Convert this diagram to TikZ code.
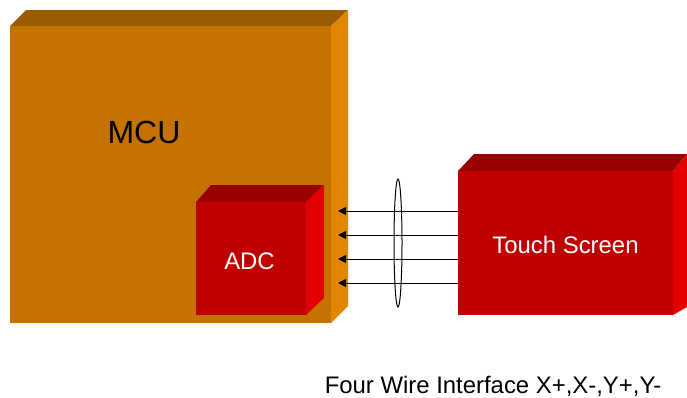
\documentclass[tikz,border=0pt]{standalone}
\usepackage{fontspec}
\setmainfont{Liberation Sans}
\usetikzlibrary{arrows.meta,shapes.geometric}
\definecolor{mcufront}{RGB}{196,114,0}
\definecolor{mcutop}{RGB}{153,92,0}
\definecolor{mcuside}{RGB}{226,134,0}
\definecolor{redfront}{RGB}{192,0,0}
\definecolor{redtop}{RGB}{153,0,0}
\definecolor{redside}{RGB}{226,0,0}
\tikzset{
  front/.style={anchor=north west,inner sep=0pt,outer sep=0pt,text=white},
  wire/.style={draw=black,line width=1pt,-{Triangle[length=8pt,width=8pt]}},
  lbl/.style={inner sep=0pt,font=\fontsize{23.9}{26}\selectfont}
}
\begin{document}
\begin{tikzpicture}[x=1pt,y=-1pt]
\useasboundingbox (0,0) rectangle (687,397);
% MCU
\fill[mcutop] (10,26) -- (26,10) -- (348,10) -- (331,26) -- cycle;
\fill[mcuside] (331,26) -- (348,10) -- (348,306) -- (331,323) -- cycle;
\node[front,fill=mcufront,minimum width=321pt,minimum height=297pt] (mcu) at (10,26) {};
\node[inner sep=0pt,font=\fontsize{32}{36}\selectfont] (mculabel) at (144,132) {MCU};
% ADC
\fill[redtop] (196,202) -- (211,185) -- (324,185) -- (306,202) -- cycle;
\fill[redside] (306,202) -- (324,185) -- (324,298) -- (306,315) -- cycle;
\node[front,fill=redfront,minimum width=110pt,minimum height=113pt] (adc) at (196,202) {};
\node[lbl,text=white] (adclabel) at (249.5,261) {ADC};
% Touch screen
\fill[redtop] (458,171) -- (474,154) -- (687,154) -- (673,171) -- cycle;
\fill[redside] (673,171) -- (687,154) -- (687,307) -- (673,315) -- cycle;
\node[front,fill=redfront,minimum width=215pt,minimum height=144pt] (ts) at (458,171) {};
\node[lbl,text=white] (tslabel) at (565.5,245) {Touch Screen};
% wires
\coordinate (a1) at (338,211); \coordinate (a2) at (338,235);
\coordinate (a3) at (338,259); \coordinate (a4) at (338,283);
\foreach \i in {1,2,3,4} \draw[wire] (ts.west |- a\i) -- (a\i);
\node[draw=black,line width=1pt,shape=ellipse,inner sep=0pt,minimum width=8pt,minimum height=128pt] (bundle) at (398,243) {};
\node[lbl,anchor=base] (caption) at (493,393) {Four Wire Interface X+,X-,Y+,Y-};
\end{tikzpicture}
\end{document}
